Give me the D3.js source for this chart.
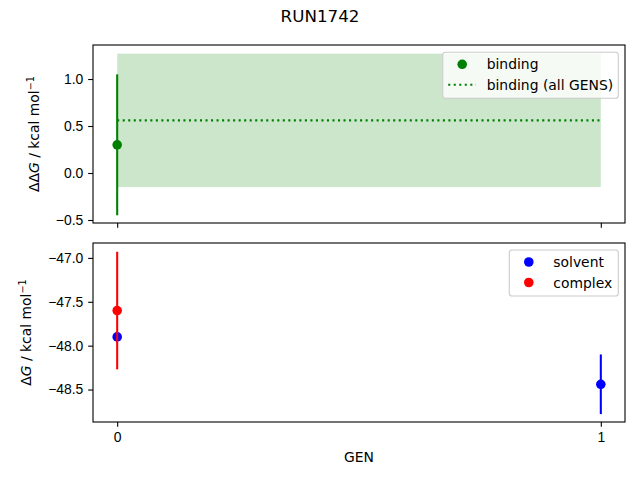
<!DOCTYPE html>
<html>
<head>
<meta charset="utf-8">
<script src="https://cdn.jsdelivr.net/npm/d3@7"></script>
<style>
  body { margin: 0; background: #fff; }
  svg { font-family: "DejaVu Sans", sans-serif; }
  .tick text { font-size: 13.9px; fill: #000; }
  .tick line { stroke: #000; stroke-width: 1.1; }
  .domain { display: none; }
</style>
</head>
<body>
<div id="chart"></div>
<script>
// data
const gens = [0, 1];
const bindingGen = [0];
const bindingValue = [0.3];
const bindingErr = [0.75];
const bindingAllMean = 0.56;
const bindingAllErr = 0.71;

const solventGen = [0, 1];
const solventValue = [-47.9, -48.44];
const solventErr = [0.02, 0.34];
const complexGen = [0];
const complexValue = [-47.6];
const complexErr = [0.67];

const topTicks = [-0.5, 0.0, 0.5, 1.0];
const bottomTicks = [-48.5, -48.0, -47.5, -47.0];

const width = 640, height = 480;
const left = 93, right = 625;
const topPanel = { y0: 45, y1: 223 };
const bottomPanel = { y0: 243, y1: 422 };

const svg = d3.select("#chart").append("svg")
  .attr("width", width)
  .attr("height", height);

const x = d3.scaleLinear().domain([-0.05, 1.05]).range([left, right]);
const yTop = d3.scaleLinear().domain([-0.532, 1.362]).range([topPanel.y1, topPanel.y0]);
const yBot = d3.scaleLinear().domain([-48.87, -46.83]).range([bottomPanel.y1, bottomPanel.y0]);

const lw = 2.08;
const r = 4.8;

// title
svg.append("text")
  .attr("x", 320).attr("y", 22)
  .attr("text-anchor", "middle")
  .style("font-size", "16.7px")
  .text("RUN1742");

// ---- top panel ----
const gTop = svg.append("g");

gTop.append("rect")
  .attr("x", x(gens[0]))
  .attr("y", yTop(bindingAllMean + bindingAllErr))
  .attr("width", x(gens[1]) - x(gens[0]))
  .attr("height", yTop(bindingAllMean - bindingAllErr) - yTop(bindingAllMean + bindingAllErr))
  .style("fill", "green")
  .style("fill-opacity", 0.2);

gTop.append("line")
  .attr("x1", x(gens[0])).attr("x2", x(gens[1]))
  .attr("y1", yTop(bindingAllMean)).attr("y2", yTop(bindingAllMean))
  .style("stroke", "green")
  .style("stroke-width", lw)
  .style("stroke-dasharray", "2.08,3.44");

bindingGen.forEach(function (g, i) {
  gTop.append("line")
    .attr("x1", x(g)).attr("x2", x(g))
    .attr("y1", yTop(bindingValue[i] - bindingErr[i]))
    .attr("y2", yTop(bindingValue[i] + bindingErr[i]))
    .style("stroke", "green")
    .style("stroke-width", lw);
  gTop.append("circle")
    .attr("cx", x(g)).attr("cy", yTop(bindingValue[i]))
    .attr("r", r)
    .style("fill", "green");
});

gTop.append("g")
  .attr("transform", `translate(${left},0)`)
  .call(d3.axisLeft(yTop).tickValues(topTicks).tickFormat(d3.format(".1f")).tickSize(4.86).tickPadding(4.86));

gTop.append("g")
  .attr("transform", `translate(0,${topPanel.y1})`)
  .call(d3.axisBottom(x).tickValues(gens).tickFormat("").tickSize(4.86));

gTop.append("rect")
  .attr("x", left).attr("y", topPanel.y0)
  .attr("width", right - left).attr("height", topPanel.y1 - topPanel.y0)
  .style("fill", "none").style("stroke", "#000").style("stroke-width", 1.1);

// ---- bottom panel ----
const gBot = svg.append("g");

function drawSeries(gensArr, vals, errs, color) {
  gensArr.forEach(function (g, i) {
    gBot.append("line")
      .attr("x1", x(g)).attr("x2", x(g))
      .attr("y1", yBot(vals[i] - errs[i]))
      .attr("y2", yBot(vals[i] + errs[i]))
      .style("stroke", color)
      .style("stroke-width", lw);
    gBot.append("circle")
      .attr("cx", x(g)).attr("cy", yBot(vals[i]))
      .attr("r", r)
      .style("fill", color);
  });
}
drawSeries(solventGen, solventValue, solventErr, "blue");
drawSeries(complexGen, complexValue, complexErr, "red");

gBot.append("g")
  .attr("transform", `translate(${left},0)`)
  .call(d3.axisLeft(yBot).tickValues(bottomTicks).tickFormat(d3.format(".1f")).tickSize(4.86).tickPadding(4.86));

gBot.append("g")
  .attr("transform", `translate(0,${bottomPanel.y1})`)
  .call(d3.axisBottom(x).tickValues(gens).tickFormat(d3.format("d")).tickSize(4.86).tickPadding(4.86));

gBot.append("rect")
  .attr("x", left).attr("y", bottomPanel.y0)
  .attr("width", right - left).attr("height", bottomPanel.y1 - bottomPanel.y0)
  .style("fill", "none").style("stroke", "#000").style("stroke-width", 1.1);

// axis labels
function yLabel(cx, cy, prefix) {
  const t = svg.append("text")
    .attr("transform", `translate(${cx},${cy}) rotate(-90)`)
    .attr("text-anchor", "middle")
    .style("font-size", "13.9px");
  t.append("tspan").text(prefix);
  t.append("tspan").style("font-style", "italic").text("G");
  t.append("tspan").text(" / kcal mol");
  t.append("tspan").attr("dy", -5).style("font-size", "9.7px").text("−1");
}
yLabel(39, (topPanel.y0 + topPanel.y1) / 2, "ΔΔ");
yLabel(31, (bottomPanel.y0 + bottomPanel.y1) / 2, "Δ");

svg.append("text")
  .attr("x", (left + right) / 2).attr("y", 462)
  .attr("text-anchor", "middle")
  .style("font-size", "13.9px")
  .text("GEN");

// legends
function legend(bx, by, bw, bh, items) {
  const g = svg.append("g");
  g.append("rect")
    .attr("x", bx).attr("y", by).attr("width", bw).attr("height", bh)
    .attr("rx", 2.8)
    .style("fill", "#fff").style("fill-opacity", 0.8)
    .style("stroke", "#cccccc").style("stroke-width", 1.1);
  items.forEach(function (it, i) {
    const cy = by + 12 + i * 20.5;
    if (it.type === "dot") {
      g.append("circle").attr("cx", bx + 19.5).attr("cy", cy).attr("r", r).style("fill", it.color);
    } else {
      g.append("line")
        .attr("x1", bx + 5.5).attr("x2", bx + 33.3)
        .attr("y1", cy).attr("y2", cy)
        .style("stroke", it.color).style("stroke-width", lw)
        .style("stroke-dasharray", "2.08,3.44");
    }
    g.append("text")
      .attr("x", bx + 44).attr("y", cy + 5)
      .style("font-size", "13.9px")
      .text(it.label);
  });
}
legend(442.7, 52.3, 175.6, 46, [
  { type: "dot", color: "green", label: "binding" },
  { type: "line", color: "green", label: "binding (all GENS)" }
]);
legend(509.3, 250, 109, 46, [
  { type: "dot", color: "blue", label: "solvent" },
  { type: "dot", color: "red", label: "complex" }
]);
</script>
</body>
</html>
